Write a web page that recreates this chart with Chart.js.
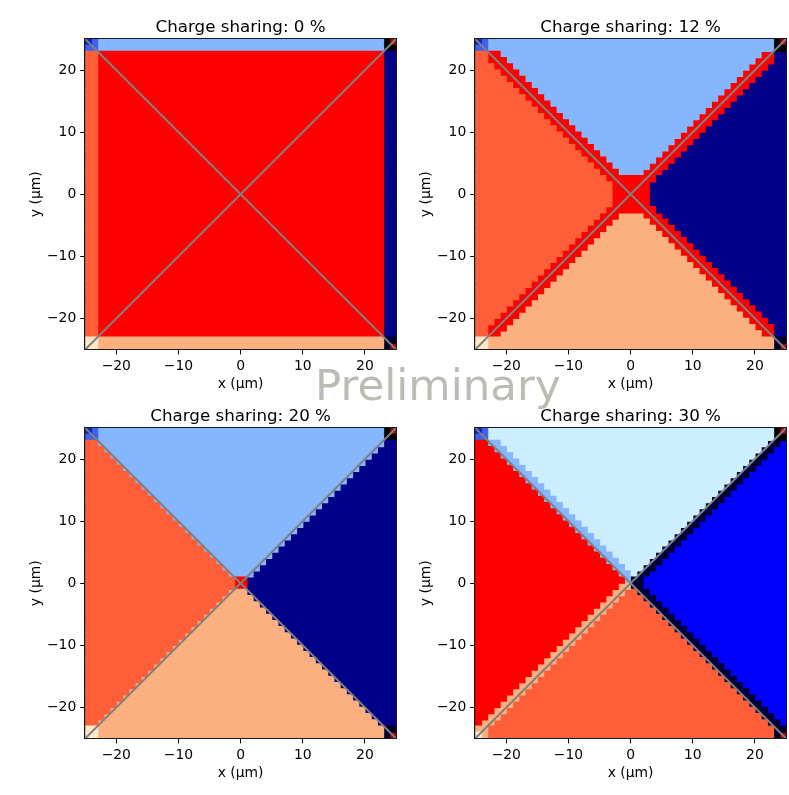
<!DOCTYPE html>
<html>
<head>
<meta charset="utf-8">
<script src="https://cdn.jsdelivr.net/npm/chart.js@4.4.1/dist/chart.umd.min.js"></script>
<style>
  html, body { margin: 0; padding: 0; background: #fff; }
  #fig { position: relative; width: 789px; height: 795px; overflow: hidden; background: #fff; }
  #fig canvas { position: absolute; }
  #mark { position: absolute; left: 315px; top: 364px; font-family: 'DejaVu Sans', sans-serif;
          font-size: 43.5px; line-height: 43.5px; color: rgba(160,160,150,0.7); white-space: nowrap; z-index: 5; }
</style>
</head>
<body>
<div id="fig"><div id="mark">Preliminary</div></div>
<script>
// ---- axes ----
const EXTENT = [-25, 25];          // µm, both axes
const CELL = 1;                    // µm, map pitch
const TICKS = [-20, -10, 0, 10, 20];
const SHARING = [0, 12, 20, 30];   // charge sharing, %

// pixel diagonals drawn on top of every map
const DIAG_UP = [[-25, -25], [25, 25]];
const DIAG_DOWN = [[-25, 25], [25, -25]];

// Reconstructed seed-pixel class per 1 µm cell, rows from y = 25 down to y = -25,
// run-length coded as <class><count> from x = -25; "n*" repeats a row n times.
const MAP_0 = [
  "D1 B1 L46 K1 M1",
  "B2 L46 K2",
  "46*T2 R46 N2",
  "C2 S46 Q2",
  "C2 S46 Q1 M1"
];

const MAP_12 = [
  "D1 B1 L46 K1 M1",
  "B2 L46 K2",
  "T2 R2 L42 R2 N2",
  "T2 R3 L40 R3 N2",
  "T3 R3 L38 R3 N3",
  "T4 R3 L36 R3 N4",
  "T5 R3 L34 R3 N5",
  "T6 R3 L32 R3 N6",
  "T7 R3 L30 R3 N7",
  "T8 R3 L28 R3 N8",
  "T9 R3 L26 R3 N9",
  "T10 R3 L24 R3 N10",
  "T11 R3 L22 R3 N11",
  "T12 R3 L20 R3 N12",
  "T13 R3 L18 R3 N13",
  "T14 R3 L16 R3 N14",
  "T15 R3 L14 R3 N15",
  "T16 R3 L12 R3 N16",
  "T17 R3 L10 R3 N17",
  "T18 R3 L8 R3 N18",
  "T19 R3 L6 R3 N19",
  "T20 R3 L4 R3 N20",
  "T21 R8 N21",
  "T22 R6 N22",
  "T22 R6 N22",
  "T22 R6 N22",
  "T22 R6 N22",
  "T21 R8 N21",
  "T20 R3 S4 R3 N20",
  "T19 R3 S6 R3 N19",
  "T18 R3 S8 R3 N18",
  "T17 R3 S10 R3 N17",
  "T16 R3 S12 R3 N16",
  "T15 R3 S14 R3 N15",
  "T14 R3 S16 R3 N14",
  "T13 R3 S18 R3 N13",
  "T12 R3 S20 R3 N12",
  "T11 R3 S22 R3 N11",
  "T10 R3 S24 R3 N10",
  "T9 R3 S26 R3 N9",
  "T8 R3 S28 R3 N8",
  "T7 R3 S30 R3 N7",
  "T6 R3 S32 R3 N6",
  "T5 R3 S34 R3 N5",
  "T4 R3 S36 R3 N4",
  "T3 R3 S38 R3 N3",
  "T2 R3 S40 R3 N2",
  "T2 R2 S42 R2 N2",
  "C2 S46 Q2",
  "C2 S46 Q1 M1"
];

const MAP_20 = [
  "D1 B1 L46 K1 M1",
  "B2 L46 K2",
  "T2 L46 N2",
  "T3 L44 N3",
  "T4 L42 N4",
  "T5 L40 N5",
  "T6 L38 N6",
  "T7 L36 N7",
  "T8 L34 N8",
  "T9 L32 N9",
  "T10 L30 N10",
  "T11 L28 N11",
  "T12 L26 N12",
  "T13 L24 N13",
  "T14 L22 N14",
  "T15 L20 N15",
  "T16 L18 N16",
  "T17 L16 N17",
  "T18 L14 N18",
  "T19 L12 N19",
  "T20 L10 N20",
  "T21 L8 N21",
  "T22 L6 N22",
  "T23 L4 N23",
  "T24 R2 N24",
  "T24 R2 N24",
  "T23 S3 N24",
  "T22 S5 N23",
  "T21 S7 N22",
  "T20 S9 N21",
  "T19 S11 N20",
  "T18 S13 N19",
  "T17 S15 N18",
  "T16 S17 N17",
  "T15 S19 N16",
  "T14 S21 N15",
  "T13 S23 N14",
  "T12 S25 N13",
  "T11 S27 N12",
  "T10 S29 N11",
  "T9 S31 N10",
  "T8 S33 N9",
  "T7 S35 N8",
  "T6 S37 N7",
  "T5 S39 N6",
  "T4 S41 N5",
  "T3 S43 N4",
  "T2 S45 N3",
  "C2 S46 Q2",
  "C2 S46 Q1 M1"
];

const MAP_30 = [
  "D1 B1 P46 K1 M1",
  "B2 P46 K2",
  "R2 L2 P43 V2 U1",
  "R3 L2 P41 V2 U2",
  "R4 L2 P39 V2 U3",
  "R5 L2 P37 V2 U4",
  "R6 L2 P35 V2 U5",
  "R7 L2 P33 V2 U6",
  "R8 L2 P31 V2 U7",
  "R9 L2 P29 V2 U8",
  "R10 L2 P27 V2 U9",
  "R11 L2 P25 V2 U10",
  "R12 L2 P23 V2 U11",
  "R13 L2 P21 V2 U12",
  "R14 L2 P19 V2 U13",
  "R15 L2 P17 V2 U14",
  "R16 L2 P15 V2 U15",
  "R17 L2 P13 V2 U16",
  "R18 L2 P11 V2 U17",
  "R19 L2 P9 V2 U18",
  "R20 L2 P7 V2 U19",
  "R21 L2 P5 V2 U20",
  "R22 L2 P3 V2 U21",
  "R23 L2 P1 V2 U22",
  "R24 L1 V2 U23",
  "R23 S2 V2 U23",
  "R22 S2 T2 V2 U22",
  "R21 S2 T4 V2 U21",
  "R20 S2 T6 V2 U20",
  "R19 S2 T8 V2 U19",
  "R18 S2 T10 V2 U18",
  "R17 S2 T12 V2 U17",
  "R16 S2 T14 V2 U16",
  "R15 S2 T16 V2 U15",
  "R14 S2 T18 V2 U14",
  "R13 S2 T20 V2 U13",
  "R12 S2 T22 V2 U12",
  "R11 S2 T24 V2 U11",
  "R10 S2 T26 V2 U10",
  "R9 S2 T28 V2 U9",
  "R8 S2 T30 V2 U8",
  "R7 S2 T32 V2 U7",
  "R6 S2 T34 V2 U6",
  "R5 S2 T36 V2 U5",
  "R4 S2 T38 V2 U4",
  "R3 S2 T40 V2 U3",
  "R2 S2 T42 V2 U2",
  "R1 S2 T44 V2 U1",
  "S2 T46 Q2",
  "C1 S1 T46 Q1 M1"
];

const MAPS = [MAP_0, MAP_12, MAP_20, MAP_30];

// class -> fill colour
const CLASS_COLOURS = {
  R: '#ff0000', T: '#ff5f38', S: '#fdb07f', L: '#86b6fe', N: '#000088',
  K: '#000000', Q: '#00002c', B: '#3d62f0', D: '#1024c8', C: '#ffe8c8',
  M: '#b00000', P: '#cdeeff', U: '#0000fe', V: '#000038'
};

// plot-area boxes on the page (left, top, size in px)
const BOXES = [
  { l: 85, t: 39, w: 310.5, h: 310 },
  { l: 475, t: 39, w: 310.5, h: 310 },
  { l: 85, t: 428.5, w: 310.5, h: 310 },
  { l: 475, t: 428.5, w: 310.5, h: 310 }
];

const FONT = "'DejaVu Sans', sans-serif";
const minus = v => String(v).replace('-', '\u2212');

function decodeRows(map) {
  const rows = [];
  map.forEach(line => {
    let rep = 1, body = line;
    const m = line.match(/^(\d+)\*(.*)$/);
    if (m) { rep = +m[1]; body = m[2]; }
    const runs = body.trim().split(/\s+/).map(t => ({ c: t[0], n: +t.slice(1) }));
    for (let i = 0; i < rep; i++) rows.push(runs);
  });
  return rows;
}

// one floating horizontal-bar dataset per run position along a row
function cellDatasets(map) {
  const rows = decodeRows(map);
  const nRuns = Math.max(...rows.map(r => r.length));
  const sets = [];
  for (let k = 0; k < nRuns; k++) {
    const data = [], colours = [];
    rows.forEach((runs, r) => {
      if (k >= runs.length) return;
      let x0 = EXTENT[0];
      for (let j = 0; j < k; j++) x0 += runs[j].n * CELL;
      const x1 = x0 + runs[k].n * CELL;
      data.push({ y: EXTENT[1] - (r + 0.5) * CELL, x: [x0, x1] });
      colours.push(CLASS_COLOURS[runs[k].c]);
    });
    sets.push({
      type: 'bar', indexAxis: 'y', data, backgroundColor: colours,
      borderWidth: 0, borderSkipped: false, grouped: false, inflateAmount: 0.6,
      barPercentage: 1, categoryPercentage: 1, order: 1
    });
  }
  return sets;
}

function diagDataset(pts) {
  return {
    type: 'line', indexAxis: 'x', order: 0,
    data: pts.map(p => ({ x: p[0], y: p[1] })),
    borderColor: '#808080', borderWidth: 2, pointRadius: 0, fill: false, tension: 0
  };
}

function axis(label, titlePad) {
  return {
    type: 'linear', min: EXTENT[0], max: EXTENT[1], offset: false,
    afterBuildTicks: s => { s.ticks = TICKS.map(v => ({ value: v })); },
    ticks: { autoSkip: false, maxRotation: 0, color: '#000', padding: 4,
             font: { family: FONT, size: 13.9 }, callback: v => minus(v) },
    grid: { display: true, drawOnChartArea: false, drawTicks: true, tickLength: 5,
            color: '#000', lineWidth: 1, offset: false },
    border: { display: true, color: '#000', width: 1 },
    title: { display: true, text: label, color: '#000',
             font: { family: FONT, size: 13.9, lineHeight: 1.0 }, padding: titlePad }
  };
}

const frame = {
  id: 'frame',
  afterDatasetsDraw(chart) {
    const { ctx, chartArea: a } = chart;
    ctx.save();
    ctx.strokeStyle = '#1a1a1a';
    ctx.lineWidth = 1;
    ctx.strokeRect(Math.round(a.left) - 0.5, Math.round(a.top) - 0.5,
                   Math.round(a.right - a.left) + 1, Math.round(a.bottom - a.top) + 1);
    ctx.restore();
  }
};

function config(i) {
  return {
    type: 'bar',
    data: { datasets: [...cellDatasets(MAPS[i]), diagDataset(DIAG_UP), diagDataset(DIAG_DOWN)] },
    options: {
      animation: false, responsive: false, maintainAspectRatio: false, devicePixelRatio: 1,
      indexAxis: 'y',
      layout: { padding: { left: 2, right: 2, top: 0, bottom: 0 } },
      plugins: {
        legend: { display: false }, tooltip: { enabled: false },
        title: { display: true, fullSize: false, text: 'Charge sharing: ' + SHARING[i] + ' %', color: '#000',
                 font: { family: FONT, size: 16.7, weight: 'normal' }, padding: { top: 4, bottom: 1 } }
      },
      scales: { x: axis('x (µm)', { top: -2, bottom: 4 }), y: axis('y (µm)', { top: 3, bottom: 0 }) }
    },
    plugins: [frame]
  };
}

const fig = document.getElementById('fig');
BOXES.forEach((box, i) => {
  const cv = document.createElement('canvas');
  cv.width = 400; cv.height = 400;
  fig.insertBefore(cv, document.getElementById('mark'));
  // first pass: measure the axis margins
  let chart = new Chart(cv, config(i));
  const a = chart.chartArea;
  const left = a.left, top = a.top, right = cv.width - a.right, bottom = cv.height - a.bottom;
  chart.destroy();
  cv.width = Math.round(left + box.w + right);
  cv.height = Math.round(top + box.h + bottom);
  cv.style.width = cv.width + 'px';
  cv.style.height = cv.height + 'px';
  chart = new Chart(cv, config(i));
  const b = chart.chartArea;
  cv.style.left = (box.l - b.left) + 'px';
  cv.style.top = (box.t - b.top) + 'px';
});
</script>
</body>
</html>
